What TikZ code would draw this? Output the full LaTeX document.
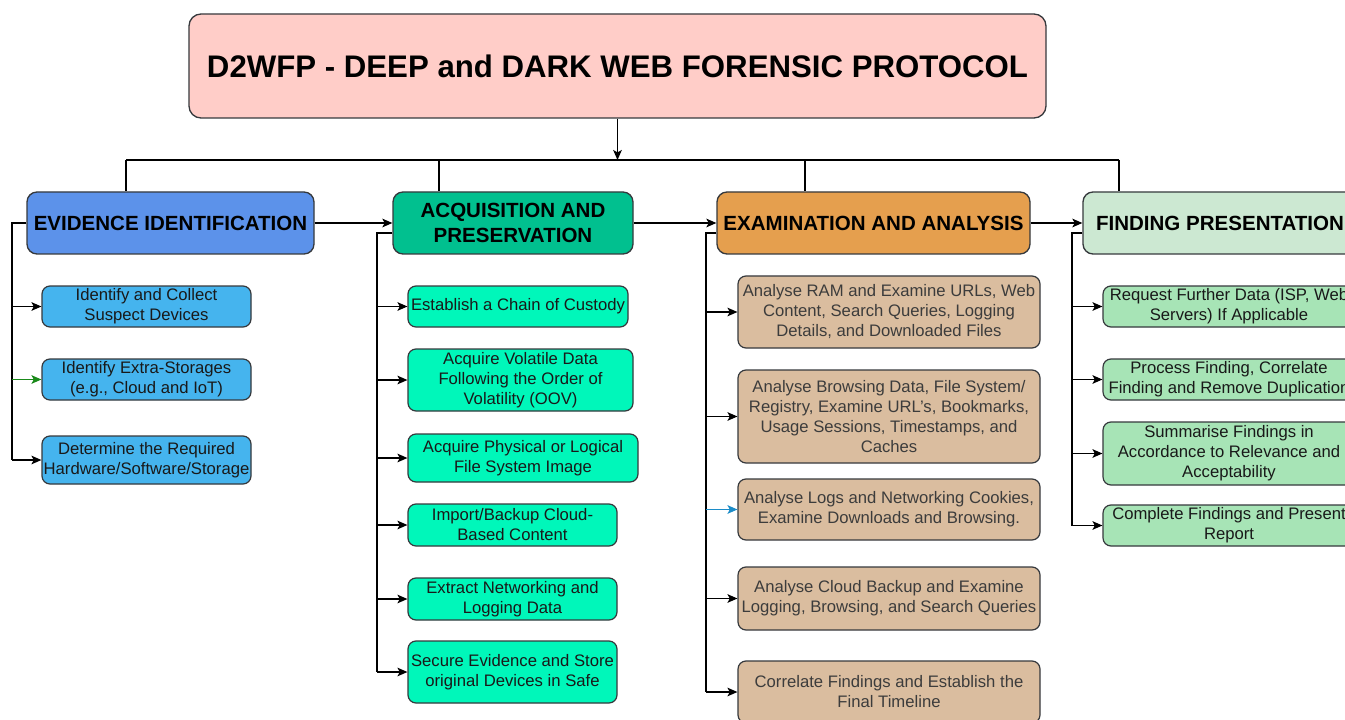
\documentclass[tikz,border=0pt]{standalone}
\usepackage{fontspec}
\setmainfont{Liberation Sans}
\usetikzlibrary{arrows.meta,calc}
\definecolor{bord}{HTML}{36393D}
\definecolor{titlefill}{HTML}{FFCDC8}
\definecolor{eihead}{HTML}{5C92EA}
\definecolor{eichild}{HTML}{45B4EE}
\definecolor{aphead}{HTML}{01C08F}
\definecolor{apchild}{HTML}{00F7BA}
\definecolor{eahead}{HTML}{E59F4E}
\definecolor{eachild}{HTML}{DABD9F}
\definecolor{fphead}{HTML}{CCE8D2}
\definecolor{fpchild}{HTML}{A7E4B6}
\definecolor{greenarr}{HTML}{1A8A1A}
\definecolor{bluearr}{HTML}{1C8CC8}
\definecolor{greytext}{HTML}{3C3C3C}
\newcommand{\mkbox}[7]{\node[#2, minimum width={(#5-#3)*0.75pt}, minimum height={(#6-#4)*0.75pt}] (#1) at ({(#3+#5)/2},{(#4+#6)/2}) {#7};}
\tikzset{
  titlebox/.style={draw=bord, line width=1pt, fill=titlefill, rounded corners=9pt, font=\bfseries\fontsize{23.4}{28}\selectfont, align=center, inner sep=0pt},
  hdr/.style={draw=bord, line width=1pt, rounded corners=7.5pt, font=\bfseries\fontsize{15.4}{18.7}\selectfont, align=center, inner sep=0pt, text=black},
  chd/.style={draw=bord, line width=0.9pt, rounded corners=6pt, font=\fontsize{12.5}{15}\selectfont, align=center, inner sep=0pt, text=black!90},
  arr/.style={-{Stealth[length=7.5pt,width=6.5pt,inset=1.8pt]}, line width=0.9pt, black},
  ln/.style={line width=0.9pt, black}
}
\begin{document}
\begin{tikzpicture}[x=0.75pt,y=-0.75pt]
\useasboundingbox (0,0) rectangle (1345,720);
\fill[white] (0,0) rectangle (1345,720);
\clip (0,0) rectangle (1345,720);

% title
\mkbox{title}{titlebox}{189}{14}{1046}{118}{D2WFP - DEEP and DARK WEB FORENSIC PROTOCOL}

% headers
\mkbox{ei}{hdr, fill=eihead}{27}{192}{314}{254}{EVIDENCE IDENTIFICATION}
\mkbox{ap}{hdr, fill=aphead}{393}{192}{633}{254}{ACQUISITION AND\\PRESERVATION}
\mkbox{ea}{hdr, fill=eahead}{717}{192}{1030}{254}{EXAMINATION AND ANALYSIS}
\mkbox{fp}{hdr, fill=fphead}{1083}{192}{1357}{254}{FINDING PRESENTATION}

% evidence identification children
\mkbox{e1}{chd, fill=eichild}{42}{286}{251}{327}{Identify and Collect\\Suspect Devices}
\mkbox{e2}{chd, fill=eichild}{42}{359}{251}{400}{Identify Extra-Storages\\(e.g., Cloud and IoT)}
\mkbox{e3}{chd, fill=eichild}{42}{436}{251}{484}{Determine the Required\\Hardware/Software/Storage}

% acquisition children
\mkbox{a1}{chd, fill=apchild}{408}{286}{628}{327}{Establish a Chain of Custody}
\mkbox{a2}{chd, fill=apchild}{408}{349}{633}{411}{Acquire Volatile Data\\Following the Order of\\Volatility (OOV)}
\mkbox{a3}{chd, fill=apchild}{408}{434}{638}{482}{Acquire Physical or Logical\\File System Image}
\mkbox{a4}{chd, fill=apchild}{408}{504}{617}{546}{Import/Backup Cloud-\\Based Content}
\mkbox{a5}{chd, fill=apchild}{408}{578}{617}{620}{Extract Networking and\\Logging Data}
\mkbox{a6}{chd, fill=apchild}{408}{641}{617}{703}{Secure Evidence and Store\\original Devices in Safe}

% examination children
\mkbox{x1}{chd, fill=eachild, text=greytext}{738}{276}{1040}{348}{Analyse RAM and Examine URLs, Web\\Content, Search Queries, Logging\\Details, and Downloaded Files}
\mkbox{x2}{chd, fill=eachild, text=greytext}{738}{370}{1040}{463}{Analyse Browsing Data, File System/\\Registry, Examine URL’s, Bookmarks,\\Usage Sessions, Timestamps, and\\Caches}
\mkbox{x3}{chd, fill=eachild, text=greytext}{738}{479}{1040}{540}{Analyse Logs and Networking Cookies,\\Examine Downloads and Browsing.}
\mkbox{x4}{chd, fill=eachild, text=greytext}{738}{567}{1040}{630}{Analyse Cloud Backup and Examine\\Logging, Browsing, and Search Queries}
\mkbox{x5}{chd, fill=eachild, text=greytext}{738}{661}{1040}{723}{Correlate Findings and Establish the\\Final Timeline}

% finding presentation children
\mkbox{f1}{chd, fill=fpchild}{1103}{286}{1355}{327}{Request Further Data (ISP, Web\\Servers) If Applicable}
\mkbox{f2}{chd, fill=fpchild}{1103}{359}{1355}{400}{Process Finding, Correlate\\Finding and Remove Duplication}
\mkbox{f3}{chd, fill=fpchild}{1103}{422}{1355}{485}{Summarise Findings in\\Accordance to Relevance and\\Acceptability}
\mkbox{f4}{chd, fill=fpchild}{1103}{505}{1355}{546}{Complete Findings and Present\\Report}

% bus from title
\coordinate (b1) at (126,160);
\coordinate (b2) at (439,160);
\coordinate (b3) at (805,160);
\coordinate (b4) at (1119,160);
\draw[arr] (title.south) -- (title.south |- b1);
\draw[ln] (b1) -- (b4);
\draw[ln] (b1) -- (b1 |- ei.north);
\draw[ln] (b2) -- (b2 |- ap.north);
\draw[ln] (b3) -- (b3 |- ea.north);
\draw[ln] (b4) -- (b4 |- fp.north);

% header chain
\draw[arr] (ei.east) -- (ap.west);
\draw[arr] (ap.east) -- (ea.west);
\draw[arr] (ea.east) -- (fp.west);

% EI trunk
\coordinate (eit) at (12,223);
\draw[ln] (ei.west) -- (eit) -- (eit |- e3.west);
\draw[arr] (eit |- e1.west) -- (e1.west);
\draw[arr, greenarr] (eit |- e2.west) -- (e2.west);
\draw[arr] (eit |- e3.west) -- (e3.west);

% AP trunk
\coordinate (apo) at ($(ap.west)+(0,10)$);
\coordinate (apt) at (377,233);
\draw[ln] (apo) -- (apt) -- (apt |- a6.west);
\foreach \c in {a1,a2,a3,a4,a5,a6} \draw[arr] (apt |- \c.west) -- (\c.west);

% EA trunk
\coordinate (eao) at ($(ea.west)+(0,10)$);
\coordinate (eat) at (706,233);
\draw[ln] (eao) -- (eat) -- (eat |- x5.west);
\draw[arr] (eat |- x1.west) -- (x1.west);
\draw[arr] (eat |- x2.west) -- (x2.west);
\draw[arr, bluearr] (eat |- x3.west) -- (x3.west);
\draw[arr] (eat |- x4.west) -- (x4.west);
\draw[arr] (eat |- x5.west) -- (x5.west);

% FP trunk
\coordinate (fpo) at ($(fp.west)+(0,10)$);
\coordinate (fpt) at (1072,233);
\draw[ln] (fpo) -- (fpt) -- (fpt |- f4.west);
\foreach \c in {f1,f2,f3,f4} \draw[arr] (fpt |- \c.west) -- (\c.west);
\end{tikzpicture}
\end{document}
